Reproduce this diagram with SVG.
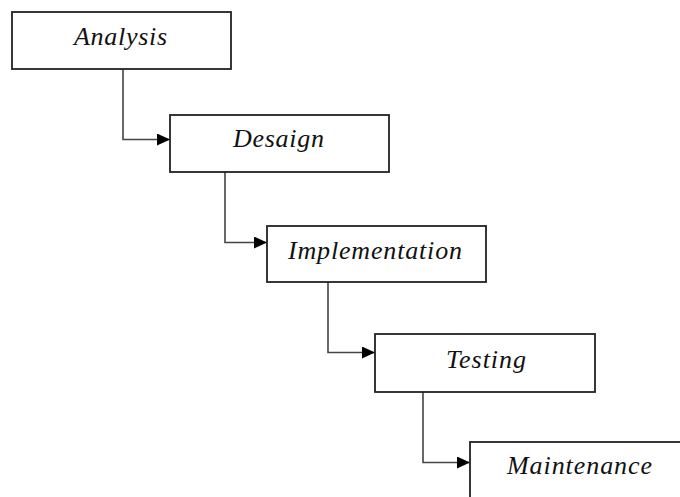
<svg xmlns="http://www.w3.org/2000/svg" width="680" height="497" viewBox="0 0 680 497">
<defs>
<style>
.box{fill:#fff;stroke:#222;stroke-width:1.8}
.lbl{font-family:"Liberation Serif","Times New Roman",serif;font-style:italic;font-size:26px;fill:#111}
.con{fill:none;stroke:#444;stroke-width:1.6}
</style>
<marker id="arr" markerWidth="13" markerHeight="12" refX="13" refY="6" orient="auto" markerUnits="userSpaceOnUse">
<path d="M0,0 L13,6 L0,12 Z" fill="#000"/>
</marker>
</defs>
<rect width="680" height="497" fill="#fff"/>
<g id="connectors">
<path class="con" d="M123 69 V139.5 H170" marker-end="url(#arr)"/>
<path class="con" d="M225 172 V242.5 H267" marker-end="url(#arr)"/>
<path class="con" d="M328 282 V352.5 H375" marker-end="url(#arr)"/>
<path class="con" d="M423 392 V462.5 H470" marker-end="url(#arr)"/>
</g>
<g id="analysis">
<rect class="box" x="12" y="12" width="219" height="57"/>
<text class="lbl" x="74" y="45" textLength="93" lengthAdjust="spacing">Analysis</text>
</g>
<g id="desaign">
<rect class="box" x="170" y="115" width="219" height="57"/>
<text class="lbl" x="233" y="147" textLength="91" lengthAdjust="spacing">Desaign</text>
</g>
<g id="implementation">
<rect class="box" x="267" y="226" width="219" height="56"/>
<text class="lbl" x="288" y="259" textLength="174" lengthAdjust="spacing">Implementation</text>
</g>
<g id="testing">
<rect class="box" x="375" y="334" width="220" height="58"/>
<text class="lbl" x="446" y="368" textLength="80" lengthAdjust="spacing">Testing</text>
</g>
<g id="maintenance">
<rect class="box" x="470" y="442" width="230" height="70"/>
<text class="lbl" x="507" y="474" textLength="145" lengthAdjust="spacing">Maintenance</text>
</g>
</svg>
